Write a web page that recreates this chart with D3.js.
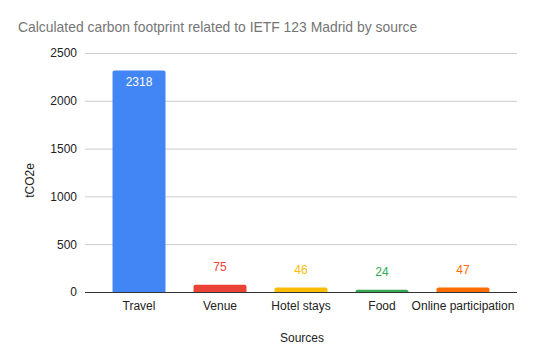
<!DOCTYPE html>
<html>
<head>
<meta charset="utf-8">
<script src="https://cdn.jsdelivr.net/npm/d3@7"></script>
<style>
  body { margin: 0; background: #fff; }
  svg { font-family: "Liberation Sans", Arial, sans-serif; }
</style>
</head>
<body>
<div id="chart"></div>
<script>
const WIDTH = 535;
const HEIGHT = 363;
const LEFT = 85;
const RIGHT = 517;
const TOP = 53;
const BOTTOM = 292;

const sources = ['Travel', 'Venue', 'Hotel stays', 'Food', 'Online participation'];
const values = [2318, 75, 46, 24, 47];
const colors = ['#4285f4', '#ea4335', '#fbbc04', '#34a853', '#ff6d01'];
const yTicks = [0, 500, 1000, 1500, 2000, 2500];

let svg = d3.select('#chart').append('svg')
  .attr('width', WIDTH)
  .attr('height', HEIGHT);

let x = d3.scaleBand()
  .domain(sources)
  .range([LEFT, RIGHT])
  .paddingInner(0.346)
  .paddingOuter(0.34);

let y = d3.scaleLinear()
  .domain([0, 2500])
  .range([BOTTOM, TOP]);

// title
svg.append('text')
  .attr('x', 18)
  .attr('y', 32)
  .attr('fill', '#757575')
  .attr('font-size', 13.9)
  .text('Calculated carbon footprint related to IETF 123 Madrid by source');

// gridlines + y labels
let yAxis = svg.append('g')
  .attr('transform', `translate(${LEFT},0)`)
  .call(d3.axisLeft(y).tickValues(yTicks).tickFormat(d3.format('d'))
    .tickSize(-(RIGHT - LEFT)).tickPadding(8));
yAxis.select('.domain').remove();
yAxis.selectAll('.tick line').attr('stroke', '#cccccc');
yAxis.selectAll('.tick text')
  .attr('fill', '#222')
  .attr('font-size', 12)
  .attr('font-family', '"Liberation Sans", Arial, sans-serif');

// bars (rounded top corners)
const r = 2;
svg.append('g').selectAll('path')
  .data(sources)
  .enter()
  .append('path')
  .attr('fill', (d, i) => colors[i])
  .attr('d', (d, i) => {
    let x0 = x(d), w = x.bandwidth();
    let y0 = y(values[i]), h = BOTTOM - y0;
    let rr = Math.min(r, h);
    return `M${x0},${BOTTOM}V${y0 + rr}Q${x0},${y0} ${x0 + rr},${y0}H${x0 + w - rr}Q${x0 + w},${y0} ${x0 + w},${y0 + rr}V${BOTTOM}Z`;
  });

// baseline + x labels
let xAxis = svg.append('g')
  .attr('transform', `translate(0,${BOTTOM})`)
  .call(d3.axisBottom(x).tickSize(0).tickPadding(9));
xAxis.select('.domain').attr('stroke', '#333').attr('d', `M${LEFT},0.5H${RIGHT}`);
xAxis.selectAll('.tick text')
  .attr('fill', '#222')
  .attr('font-size', 12)
  .attr('font-family', '"Liberation Sans", Arial, sans-serif');

// value labels
svg.append('g').selectAll('text')
  .data(sources)
  .enter()
  .append('text')
  .attr('text-anchor', 'middle')
  .attr('font-size', 12)
  .attr('x', (d) => x(d) + x.bandwidth() / 2)
  .attr('y', (d, i) => values[i] > 1000 ? y(values[i]) + 16 : y(values[i]) - 14)
  .attr('fill', (d, i) => values[i] > 1000 ? '#fff' : colors[i])
  .text((d, i) => values[i]);

// axis titles
svg.append('text')
  .attr('x', (LEFT + RIGHT) / 2 + 1)
  .attr('y', 342)
  .attr('text-anchor', 'middle')
  .attr('font-size', 12)
  .attr('fill', '#222')
  .text('Sources');

svg.append('text')
  .attr('transform', `translate(34,${(TOP + BOTTOM) / 2 + 8}) rotate(-90)`)
  .attr('text-anchor', 'middle')
  .attr('font-size', 12)
  .attr('fill', '#222')
  .text('tCO2e');
</script>
</body>
</html>
